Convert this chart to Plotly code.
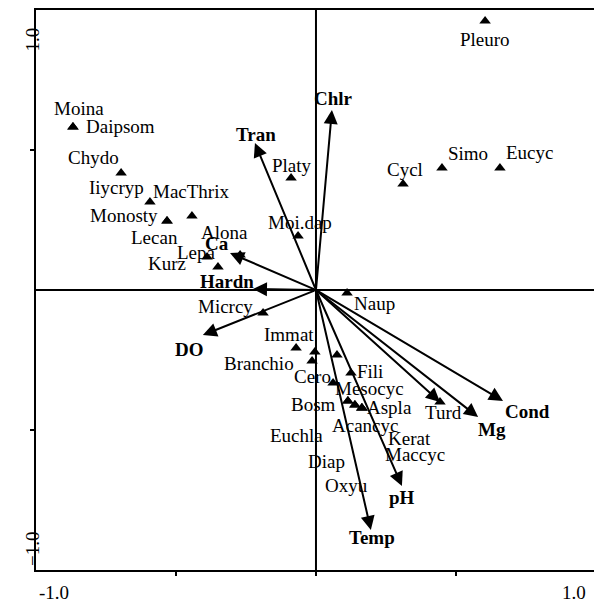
import plotly.graph_objects as go

# Species scores (axis 1, axis 2)
species = ["Pleuro", "Moina", "Daipsom", "Chydo", "Iiycryp", "MacThrix", "Monosty",
           "Lecan", "Alona", "Lepa", "Kurz", "Platy", "Moi.dap", "Cycl", "Simo",
           "Eucyc", "Naup", "Micrcy", "Immat", "Branchio", "Euchla", "Mesocyc",
           "Cero", "Fili", "Bosm", "Acancyc", "Aspla", "Kerat", "Maccyc", "Diap",
           "Oxyu", "Turd"]
sp_x = [0.604, -0.868, -0.868, -0.696, -0.593, -0.443, -0.532,
        -0.532, -0.271, -0.389, -0.350, -0.089, -0.064, 0.311, 0.450,
        0.657, 0.111, -0.189, -0.071, -0.014, -0.004, 0.075,
        0.061, 0.125, 0.114, 0.139, 0.164, 0.164, 0.164, 0.114,
        0.139, 0.443]
sp_y = [0.961, 0.582, 0.582, 0.418, 0.314, 0.264, 0.246,
        0.246, 0.125, 0.118, 0.082, 0.400, 0.193, 0.379, 0.436,
        0.436, -0.011, -0.082, -0.207, -0.254, -0.221, -0.232,
        -0.332, -0.296, -0.396, -0.411, -0.421, -0.421, -0.421, -0.396,
        -0.411, -0.400]

# Environmental variable biplot scores
env = ["Chlr", "Tran", "Ca", "Hardn", "DO", "", "Mg", "Cond", "pH", "Temp"]
env_x = [0.057, -0.218, -0.307, -0.225, -0.404, 0.443, 0.579, 0.668, 0.307, 0.196]
env_y = [0.643, 0.525, 0.132, 0.004, -0.161, -0.400, -0.454, -0.396, -0.700, -0.857]

# Label placement offsets in pixels (dx right, dy down) from each mark
sp_offset = {
    "Pleuro": (0, 19), "Moina": (6, -19), "Daipsom": (48, -1), "Chydo": (-28, -15),
    "Iiycryp": (-33, -15), "MacThrix": (-1, -25), "Monosty": (-43, -6),
    "Lecan": (-13, 16), "Alona": (-16, -23), "Lepa": (-11, -4), "Kurz": (-51, -4),
    "Platy": (1, -13), "Moi.dap": (2, -13), "Cycl": (2, -14), "Simo": (26, -14),
    "Eucyc": (30, -15), "Naup": (27, 10), "Micrcy": (-38, -6), "Immat": (-7, -13),
    "Branchio": (-53, 2), "Euchla": (-18, 84), "Mesocyc": (33, 34),
    "Cero": (-21, -6), "Fili": (19, -1), "Bosm": (-34, 4), "Acancyc": (10, 20),
    "Aspla": (28, 0), "Kerat": (48, 31), "Maccyc": (53, 47), "Diap": (-21, 61),
    "Oxyu": (-8, 80), "Turd": (3, 10),
}
env_offset = {
    "Chlr": (2, -11), "Tran": (1, -9), "Ca": (-13, -10), "Hardn": (-26, -7),
    "DO": (-13, 14), "": (0, 0), "Mg": (14, 12), "Cond": (24, 11),
    "pH": (0, 11), "Temp": (1, 8),
}

FONT = "Liberation Serif, Times New Roman, serif"
FS = 19

fig = go.Figure()

fig.add_trace(go.Scatter(
    x=sp_x, y=sp_y, mode="markers",
    marker=dict(symbol="triangle-up", size=10, color="black"),
    hoverinfo="text", text=species, showlegend=False,
))

annotations = []
for name, x, y in zip(species, sp_x, sp_y):
    dx, dy = sp_offset[name]
    annotations.append(dict(x=x, y=y, xref="x", yref="y", text=name,
                            showarrow=False, xshift=dx, yshift=-dy,
                            font=dict(family=FONT, size=FS, color="black")))

for name, x, y in zip(env, env_x, env_y):
    annotations.append(dict(x=x, y=y, ax=0, ay=0, xref="x", yref="y",
                            axref="x", ayref="y", text="", showarrow=True,
                            arrowhead=2, arrowsize=1.4, arrowwidth=2,
                            arrowcolor="black", standoff=0, startstandoff=0))
    if name:
        dx, dy = env_offset[name]
        annotations.append(dict(x=x, y=y, xref="x", yref="y",
                                text="<b>%s</b>" % name, showarrow=False,
                                xshift=dx, yshift=-dy,
                                font=dict(family=FONT, size=FS, color="black")))

# Axis end labels
tick_font = dict(family=FONT, size=FS, color="black")
annotations += [
    dict(x=0.002, y=-0.04, xref="paper", yref="paper", text="-1.0",
         showarrow=False, xanchor="left", yanchor="middle", font=tick_font),
    dict(x=0.989, y=-0.04, xref="paper", yref="paper", text="1.0",
         showarrow=False, xanchor="right", yanchor="middle", font=tick_font),
    dict(x=-0.029, y=0.973, xref="paper", yref="paper", text="1.0",
         showarrow=False, textangle=-90, yanchor="top", font=tick_font),
    dict(x=-0.029, y=0.004, xref="paper", yref="paper", text="\u22121.0",
         showarrow=False, textangle=-90, yanchor="bottom", font=tick_font),
]

shapes = [
    dict(type="line", xref="x", yref="y", x0=0, x1=0, y0=-1.01, y1=1,
         line=dict(color="black", width=2), layer="below"),
    dict(type="line", xref="paper", yref="y", x0=0, x1=1, y0=0, y1=0,
         line=dict(color="black", width=2), layer="below"),
]

fig.update_layout(
    width=594, height=603,
    margin=dict(l=36, r=0, t=10, b=33),
    paper_bgcolor="white", plot_bgcolor="white",
    annotations=annotations, shapes=shapes,
    xaxis=dict(range=[-1, 0.993], showgrid=False, zeroline=False,
               showline=True, mirror=True, linecolor="black", linewidth=2,
               tickvals=[-0.5, 0, 0.5], ticks="outside", ticklen=4,
               tickwidth=1.5, tickcolor="black", showticklabels=False),
    yaxis=dict(range=[-1, 1], showgrid=False, zeroline=False,
               showline=True, mirror=False, linecolor="black", linewidth=2,
               tickvals=[-0.5, 0.5], ticks="outside", ticklen=4,
               tickwidth=1.5, tickcolor="black", showticklabels=False),
)

fig.write_html("out.html")
